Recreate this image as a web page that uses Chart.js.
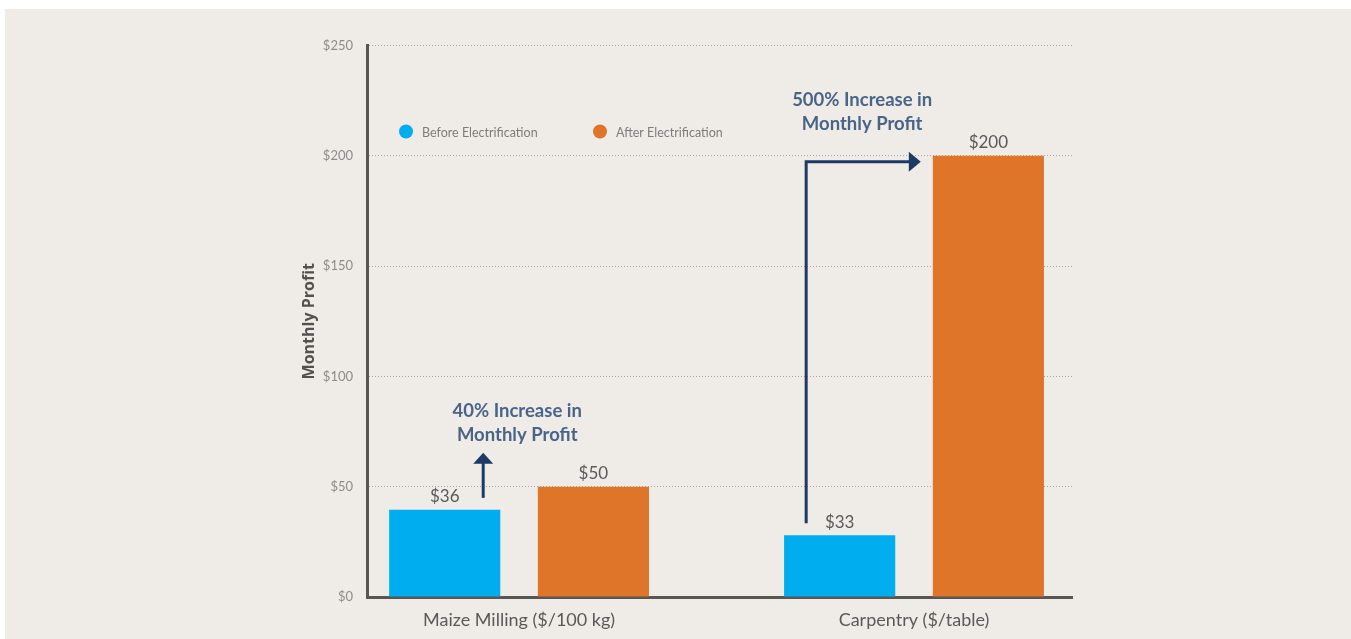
<!DOCTYPE html>
<html>
<head>
<meta charset="utf-8">
<script src="https://cdn.jsdelivr.net/npm/chart.js@4.4.0/dist/chart.umd.min.js"></script>
<style>
  html, body { margin: 0; padding: 0; background: #ffffff; }
  #panel { position: absolute; left: 5px; top: 9px; width: 1346px; height: 630px; background: #efece8; }
</style>
</head>
<body>
<div id="panel"><canvas id="canvas_profit" width="1346" height="630"></canvas></div>
<script>
const categories = ["Maize Milling ($/100 kg)", "Carpentry ($/table)"];
const seriesNames = ["Before Electrification", "After Electrification"];
// bar heights as drawn in the picture, and the printed labels above them
const beforeValues = [39.5, 28];
const afterValues = [50, 200];
const beforeLabels = ["$36", "$33"];
const afterLabels = ["$50", "$200"];
const increaseNotes = [
  ["40% Increase in", "Monthly Profit"],
  ["500% Increase in", "Monthly Profit"],
];
const yTicks = [0, 50, 100, 150, 200, 250];

const BLUE = "#00adee";
const ORANGE = "#df7529";
const AXIS = "#5a5553";
const NAVY = "#1c3a63";

Chart.defaults.font.family = "Lato";

const barLabels = {
  id: "barLabels",
  afterDatasetsDraw(chart) {
    const ctx = chart.ctx;
    const texts = [beforeLabels, afterLabels];
    ctx.save();
    ctx.font = "17px Lato";
    ctx.fillStyle = "#5c5856";
    ctx.textAlign = "center";
    ctx.textBaseline = "middle";
    chart.data.datasets.forEach((ds, d) => {
      chart.getDatasetMeta(d).data.forEach((bar, i) => {
        ctx.fillText(texts[d][i], bar.x, bar.y - 13);
      });
    });
    ctx.restore();
  },
};

const insideLegend = {
  id: "insideLegend",
  afterDraw(chart) {
    const { ctx, chartArea } = chart;
    const y = chartArea.top + 86;
    const xs = [chartArea.left + 39, chartArea.left + 233];
    ctx.save();
    ctx.font = "12.5px Lato";
    ctx.textAlign = "left";
    ctx.textBaseline = "middle";
    chart.data.datasets.forEach((ds, d) => {
      ctx.fillStyle = ds.backgroundColor;
      ctx.beginPath();
      ctx.arc(xs[d], y, 7, 0, Math.PI * 2);
      ctx.fill();
      ctx.fillStyle = "#7f7b78";
      ctx.fillText(ds.label, xs[d] + 16, y + 1);
    });
    ctx.restore();
  },
};

function drawNote(ctx, lines, x, y) {
  ctx.save();
  ctx.font = "bold 18.5px Lato";
  ctx.fillStyle = "#4a6488";
  ctx.textAlign = "center";
  ctx.textBaseline = "middle";
  ctx.fillText(lines[0], x, y);
  ctx.fillText(lines[1], x, y + 24);
  ctx.restore();
}

const increaseArrows = {
  id: "increaseArrows",
  afterDatasetsDraw(chart) {
    const ctx = chart.ctx;
    const before = chart.getDatasetMeta(0).data;
    const after = chart.getDatasetMeta(1).data;
    ctx.save();
    ctx.strokeStyle = NAVY;
    ctx.fillStyle = NAVY;
    ctx.lineWidth = 3;

    // maize: short arrow straight up
    const mx = before[0].x + 38.5;
    const mBottom = before[0].y - 12;
    const mTip = before[0].y - 57;
    ctx.beginPath();
    ctx.moveTo(mx, mBottom);
    ctx.lineTo(mx, mTip + 8);
    ctx.stroke();
    ctx.beginPath();
    ctx.moveTo(mx, mTip);
    ctx.lineTo(mx - 10, mTip + 11);
    ctx.lineTo(mx + 10, mTip + 11);
    ctx.closePath();
    ctx.fill();
    drawNote(ctx, increaseNotes[0], mx + 34, mTip - 42);

    // carpentry: up then right to the tall bar
    const cx = before[1].x - 33.5;
    const cBottom = before[1].y - 12;
    const corner = after[1].y + 6;
    const tipX = after[1].x - after[1].width / 2 - 12;
    ctx.beginPath();
    ctx.moveTo(cx, cBottom);
    ctx.lineTo(cx, corner);
    ctx.lineTo(tipX - 8, corner);
    ctx.stroke();
    ctx.beginPath();
    ctx.moveTo(tipX, corner);
    ctx.lineTo(tipX - 12, corner - 10);
    ctx.lineTo(tipX - 12, corner + 10);
    ctx.closePath();
    ctx.fill();
    drawNote(ctx, increaseNotes[1], cx + 56, corner - 62);

    ctx.restore();
  },
};

const datas = {
  datasets: [
    {
      label: seriesNames[0],
      data: beforeValues.map((v, i) => ({ x: i, y: v })),
      backgroundColor: BLUE,
      categoryPercentage: 0.753,
      barPercentage: 0.7475,
    },
    {
      label: seriesNames[1],
      data: afterValues.map((v, i) => ({ x: i, y: v })),
      backgroundColor: ORANGE,
      categoryPercentage: 0.753,
      barPercentage: 0.7475,
    },
  ],
};

const config = {
  type: "bar",
  data: datas,
  options: {
    responsive: false,
    animation: false,
    layout: {
      padding: { left: 292, right: 279, top: 36.5, bottom: 0 },
    },
    scales: {
      x: {
        type: "linear",
        min: -0.385,
        max: 1.4,
        bounds: "data",
        offset: false,
        afterBuildTicks: (scale) => {
          scale.ticks = categories.map((c, i) => ({ value: i }));
        },
        afterFit: (scale) => {
          scale.height = 42;
        },
        ticks: {
          callback: (value) => categories[value],
          color: "#5c5856",
          font: { size: 18 },
          padding: 12,
          maxRotation: 0,
          autoSkip: false,
        },
        grid: { display: false, drawTicks: false },
        border: { display: true, color: AXIS, width: 3 },
      },
      y: {
        min: 0,
        max: 250,
        afterBuildTicks: (scale) => {
          scale.ticks = yTicks.map((v) => ({ value: v }));
        },
        afterFit: (scale) => {
          scale.width = 70;
        },
        ticks: {
          callback: (value) => "$" + value,
          color: "#8f8b88",
          font: { size: 13 },
          padding: 14,
        },
        grid: { color: "#aaa6a2", lineWidth: 1, drawTicks: false },
        border: { display: true, color: AXIS, width: 3, dash: [1, 2] },
        title: {
          display: true,
          text: "Monthly Profit",
          color: "#55504e",
          font: { family: "'Open Sans'", size: 16, weight: "bold" },
          padding: { top: 3, bottom: 4 },
        },
      },
    },
    plugins: {
      legend: { display: false },
      tooltip: { enabled: false },
    },
  },
  plugins: [barLabels, increaseArrows, insideLegend],
};

window.chart = new Chart(document.getElementById("canvas_profit"), config);
</script>
</body>
</html>
